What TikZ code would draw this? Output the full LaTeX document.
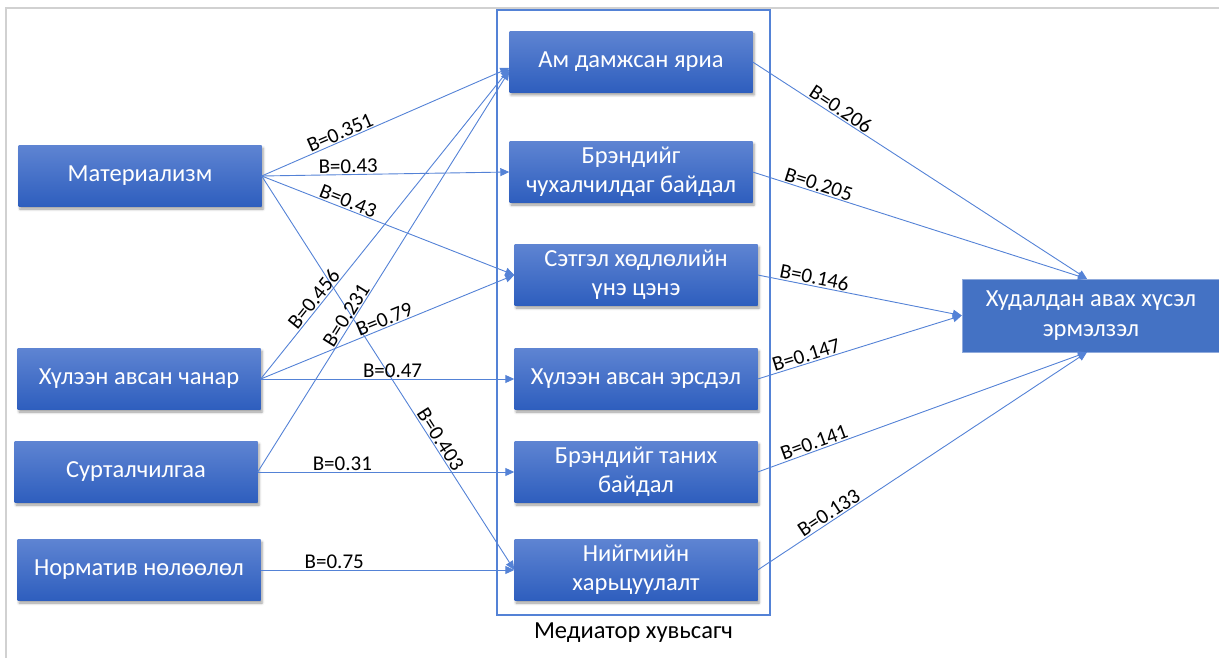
\documentclass[tikz,border=0pt]{standalone}
\usepackage{fontspec}
\setmainfont{Carlito}
\usetikzlibrary{arrows.meta,shadows.blur,positioning}
\definecolor{boxtop}{RGB}{94,132,210}
\definecolor{boxbot}{RGB}{46,94,190}
\definecolor{linkblue}{RGB}{84,130,214}
\definecolor{outblue}{RGB}{68,114,196}
\tikzset{
 varbox/.style={minimum width=243pt,minimum height=61pt,inner sep=2pt,top color=boxtop,bottom color=boxbot,
   text=white,align=center,font=\fontsize{24.5}{29}\selectfont,
   blur shadow={shadow xshift=1.5pt,shadow yshift=-2.5pt,shadow blur radius=2.5pt,shadow opacity=40}},
 outbox/.style={minimum width=258pt,minimum height=73pt,inner sep=2pt,fill=outblue,draw=outblue!60!white,
   text=white,align=center,font=\fontsize{24.5}{30}\selectfont},
 link/.style={draw=linkblue,line width=0.9pt,-{Triangle[length=9pt,width=8pt]}},
 coef/.style={sloped,above,inner sep=1pt,font=\fontsize{21}{21}\selectfont,text=black}
}
\begin{document}
\begin{tikzpicture}[x=1pt,y=-1pt]
 \useasboundingbox (0,0) rectangle (1219,658);
 \draw[black!18,line width=2pt] (6,658) -- (6,8) -- (1219,8);
 \node[draw=linkblue,line width=1.2pt,minimum width=273pt,minimum height=605pt,inner sep=0pt] (med) at (633.5,312.5) {};
 \node[below=4pt of med,font=\fontsize{24.5}{24.5}\selectfont] (medcap) {Медиатор хувьсагч};
 % independent variables
 \node[varbox] (mat) at (140,176) {Материализм};
 \node[varbox] (qual) at (139,379) {Хүлээн авсан чанар};
 \node[varbox] (adv) at (136,472) {Сурталчилгаа};
 \node[varbox] (norm) at (139,570) {Норматив нөлөөлөл};
 % mediators
 \node[varbox] (am) at (631,62) {Ам дамжсан яриа};
 \node[varbox] (brimp) at (631,172) {Брэндийг\\чухалчилдаг байдал};
 \node[varbox] (emo) at (636,275) {Сэтгэл хөдлөлийн\\үнэ цэнэ};
 \node[varbox] (risk) at (636,379) {Хүлээн авсан эрсдэл};
 \node[varbox] (recog) at (636,472) {Брэндийг таних\\байдал};
 \node[varbox] (soc) at (636,570) {Нийгмийн\\харьцуулалт};
 % dependent variable
 \node[outbox] (buy) at (1091,315.5) {Худалдан авах хүсэл\\эрмэлзэл};
 \draw[link] (mat.east) -- node[coef,pos=.33]{B=0.351} ([yshift=-6pt]am.west);
 \draw[link] (mat.east) -- node[coef,pos=.35]{B=0.43} (brimp.west);
 \draw[link] (mat.east) -- node[coef,pos=.33]{B=0.43} (emo.west);
 \draw[link] (mat.east) -- node[coef,pos=.68]{B=0.403} (soc.west);
 \draw[link] (qual.east) -- node[coef,pos=.24]{B=0.456} ([yshift=-7pt]am.west);
 \draw[link] (qual.east) -- node[coef,pos=.5]{B=0.79} (emo.west);
 \draw[link] (qual.east) -- node[coef,pos=.52]{B=0.47} (risk.west);
 \draw[link] (adv.east) -- node[coef,pos=.38]{B=0.231} ([yshift=-9pt]am.west);
 \draw[link] (adv.east) -- node[coef,pos=.33]{B=0.31} (recog.west);
 \draw[link] (norm.east) -- node[coef,pos=.29]{B=0.75} (soc.west);
 \draw[link] (am.east) -- node[coef,pos=.25]{B=0.206} ([xshift=-4pt]buy.north);
 \draw[link] (brimp.east) -- node[coef,pos=.19]{B=0.205} ([xshift=-4pt]buy.north);
 \draw[link] (emo.east) -- node[coef,pos=.27]{B=0.146} (buy.west);
 \draw[link] (risk.east) -- node[coef,pos=.25]{B=0.147} (buy.west);
 \draw[link] (recog.east) -- node[coef,pos=.18]{B=0.141} ([xshift=-4pt]buy.south);
 \draw[link] (soc.east) -- node[coef,pos=.23]{B=0.133} ([xshift=-4pt]buy.south);
\end{tikzpicture}
\end{document}
